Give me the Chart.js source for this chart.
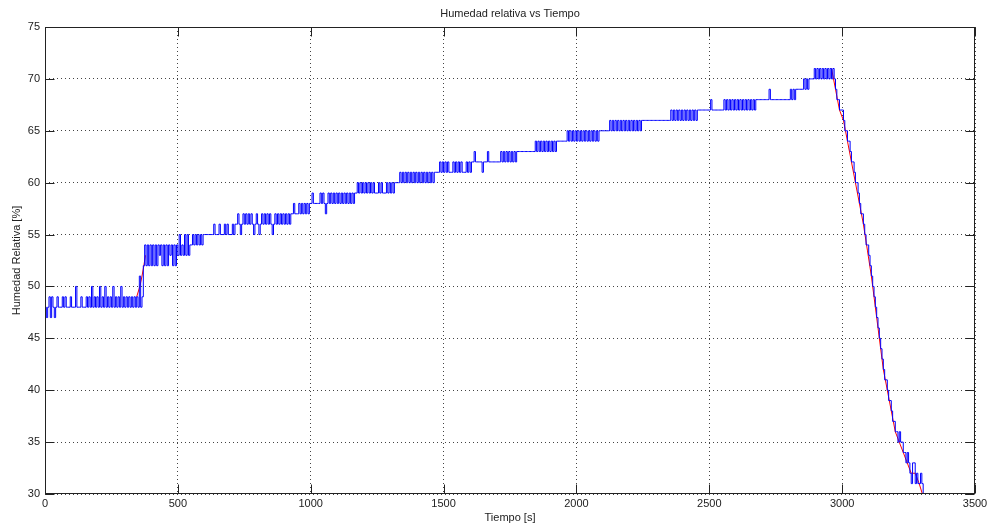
<!DOCTYPE html>
<html>
<head>
<meta charset="utf-8">
<script src="https://cdn.jsdelivr.net/npm/chart.js@4/dist/chart.umd.min.js"></script>
<style>
  html, body { margin: 0; padding: 0; background: #fff; }
  #wrap { width: 992px; height: 527px; }
</style>
</head>
<body>
<div id="wrap"><canvas id="myChart" width="992" height="527"></canvas></div>
<script>
// one row = 100 s, one value per 10 s bin:
// humidityBase is the level at the start of the bin, humidityExcursion the level
// the sensor flickers to in the second half of that bin
const timeStep = 10;
const humidityBase = [
  48, 48, 47, 48, 48, 48, 48, 48, 48, 48,
  48, 48, 48, 48, 48, 48, 48, 48, 48, 48,
  48, 48, 48, 48, 48, 48, 48, 48, 48, 48,
  48, 48, 48, 48, 48, 48, 48, 52, 52, 52,
  52, 52, 52, 53, 52, 52, 52, 53, 52, 52,
  53, 53, 53, 53, 53, 54, 54, 54, 54, 54,
  55, 55, 55, 55, 55, 55, 55, 55, 55, 55,
  55, 55, 56, 56, 56, 56, 56, 56, 56, 56,
  56, 56, 56, 56, 56, 56, 56, 56, 56, 56,
  56, 56, 56, 57, 57, 57, 57, 57, 57, 57,
  58, 58, 58, 58, 58, 58, 58, 58, 58, 58,
  58, 58, 58, 58, 58, 58, 58, 59, 59, 59,
  59, 59, 59, 59, 59, 59, 59, 59, 59, 59,
  59, 59, 60, 60, 60, 60, 60, 60, 60, 60,
  60, 60, 60, 60, 60, 60, 60, 61, 61, 61,
  61, 61, 61, 61, 61, 61, 61, 61, 61, 61,
  61, 62, 62, 62, 62, 62, 62, 62, 62, 62,
  62, 62, 62, 62, 62, 62, 62, 62, 63, 63,
  63, 63, 63, 63, 63, 63, 63, 63, 63, 63,
  63, 63, 63, 64, 64, 64, 64, 64, 64, 64,
  64, 64, 64, 64, 64, 64, 64, 64, 64, 65,
  65, 65, 65, 65, 65, 65, 65, 65, 65, 65,
  65, 65, 65, 65, 65, 66, 66, 66, 66, 66,
  66, 66, 66, 66, 66, 66, 66, 66, 66, 66,
  66, 66, 66, 66, 66, 66, 67, 67, 67, 67,
  67, 67, 67, 67, 67, 67, 67, 67, 67, 67,
  67, 67, 67, 67, 67, 67, 67, 67, 68, 68,
  68, 68, 68, 68, 68, 68, 68, 68, 68, 68,
  68, 68, 68, 69, 69, 69, 69, 69, 70, 70,
  70, 70, 70, 70, 70, 70, 70, 70, 68, 67,
  67, 65, 64, 63, 62, 60, 59, 57, 56, 54,
  53, 51, 49, 47, 45, 43, 41, 40, 39, 37,
  36, 35, 35, 34, 33, 33, 31, 33, 32, 31,
  31
];
const humidityExcursion = [
  47, 49, 49, 47, 49, 48, 49, 49, 48, 49,
  48, 50, 48, 49, 48, 49, 49, 50, 49, 49,
  50, 49, 50, 49, 49, 50, 49, 49, 50, 49,
  49, 49, 49, 49, 49, 51, 49, 54, 54, 54,
  54, 54, 54, 54, 54, 54, 54, 54, 54, 54,
  55, 54, 55, 55, 54, 55, 55, 55, 55, 55,
  55, 55, 55, 56, 55, 56, 55, 56, 56, 55,
  56, 56, 57, 55, 57, 57, 57, 57, 55, 57,
  55, 57, 57, 57, 57, 55, 57, 57, 57, 57,
  57, 57, 57, 58, 57, 58, 58, 58, 58, 58,
  59, 58, 58, 59, 59, 57, 59, 59, 59, 59,
  59, 59, 59, 59, 59, 59, 59, 60, 60, 60,
  60, 60, 60, 60, 59, 60, 60, 59, 60, 60,
  60, 60, 60, 61, 61, 61, 61, 61, 61, 61,
  61, 61, 61, 61, 61, 61, 61, 61, 62, 62,
  62, 62, 61, 62, 62, 62, 62, 61, 62, 62,
  62, 63, 62, 62, 61, 62, 63, 62, 62, 62,
  62, 63, 63, 63, 63, 63, 63, 63, 63, 63,
  63, 63, 63, 63, 64, 64, 64, 64, 64, 64,
  64, 64, 64, 64, 64, 64, 65, 65, 65, 65,
  65, 65, 65, 65, 65, 65, 65, 65, 65, 65,
  65, 65, 66, 66, 66, 66, 66, 66, 66, 66,
  66, 66, 66, 66, 66, 66, 66, 66, 66, 66,
  66, 66, 66, 66, 66, 67, 67, 67, 67, 67,
  67, 67, 67, 67, 67, 67, 67, 67, 67, 67,
  68, 67, 67, 67, 67, 68, 68, 68, 68, 68,
  68, 68, 68, 68, 68, 68, 68, 68, 68, 68,
  68, 68, 69, 68, 68, 68, 68, 68, 68, 68,
  69, 69, 69, 69, 69, 70, 70, 70, 70, 71,
  71, 71, 71, 71, 71, 71, 71, 69, 68, 67,
  66, 65, 64, 62, 61, 60, 58, 57, 55, 54,
  52, 50, 48, 46, 44, 42, 41, 39, 38, 37,
  36, 36, 35, 34, 34, 32, 33, 31, 31, 32,
  30
];

// red trace, only visible where it leaves the blue one (rise and fall)
const redTimes = [345, 357, 365, 372, 378, 380, 2960, 2975, 2990, 3005, 3020, 3035, 3050, 3065, 3080, 3095,
  3110, 3125, 3140, 3155, 3170, 3185, 3200, 3215, 3230, 3245, 3260, 3275, 3290, 3302];
const redValues = [49, 50, 51, 52, 53, null, 71, 69, 67, 66, 64, 62, 60, 58, 56, 53.5,
  51, 48, 45, 42, 40, 38, 36, 35, 34, 33, 32, 32, 31, 30];

const xTicks = [0, 500, 1000, 1500, 2000, 2500, 3000, 3500];
const yTicks = [30, 35, 40, 45, 50, 55, 60, 65, 70, 75];

const bluePoints = [];
humidityBase.forEach((v, i) => {
  bluePoints.push({ x: i * timeStep, y: v });
  bluePoints.push({ x: i * timeStep + timeStep / 2, y: humidityExcursion[i] });
});
const redPoints = redTimes.map((t, i) => ({ x: t, y: redValues[i] }));

Chart.defaults.font.family = '"Liberation Sans", Arial, sans-serif';
Chart.defaults.font.size = 11;
Chart.defaults.color = '#222';

const tickLen = 9;

// matlab style box with inward ticks on every side
const matlabBox = {
  id: 'matlabBox',
  afterDatasetsDraw(chart) {
    const { ctx, chartArea: a, scales } = chart;
    const left = Math.round(a.left) + 0.5;
    const right = Math.round(a.right) - 0.5;
    const top = Math.round(a.top) + 0.5;
    const bottom = Math.round(a.bottom) - 0.5;
    ctx.save();
    ctx.strokeStyle = '#222';
    ctx.lineWidth = 1;
    ctx.beginPath();
    xTicks.forEach(t => {
      const px = Math.round(scales.x.getPixelForValue(t)) + 0.5;
      ctx.moveTo(px, bottom); ctx.lineTo(px, bottom - tickLen);
      ctx.moveTo(px, top); ctx.lineTo(px, top + tickLen);
    });
    yTicks.forEach(t => {
      const py = Math.round(scales.y.getPixelForValue(t)) + 0.5;
      ctx.moveTo(left, py); ctx.lineTo(left + tickLen, py);
      ctx.moveTo(right, py); ctx.lineTo(right - tickLen, py);
    });
    ctx.stroke();
    ctx.strokeRect(left, top, right - left, bottom - top);
    ctx.restore();
  }
};

new Chart('myChart', {
  type: 'line',
  data: {
    datasets: [{
      data: bluePoints,
      borderColor: '#0000ff',
      borderWidth: 1,
      stepped: true,
      pointRadius: 0,
      order: 0
    }, {
      data: redPoints,
      borderColor: '#ff0000',
      borderWidth: 1,
      pointRadius: 0,
      tension: 0,
      spanGaps: false,
      order: 1
    }]
  },
  options: {
    responsive: false,
    animation: false,
    events: [],
    layout: { padding: { left: 0, right: 17, top: 0, bottom: 0 } },
    plugins: {
      legend: { display: false },
      tooltip: { enabled: false },
      title: {
        display: true,
        text: 'Humedad relativa vs Tiempo',
        fullSize: false,
        color: '#222',
        font: { size: 11, weight: 'normal', lineHeight: '13px' },
        padding: { top: 7, bottom: 7 }
      }
    },
    scales: {
      x: {
        type: 'linear',
        min: 0,
        max: 3500,
        afterBuildTicks: s => { s.ticks = xTicks.map(v => ({ value: v })); },
        afterFit: s => { s.height = 33; },
        ticks: { padding: 3, color: '#222', callback: v => String(v) },
        grid: { color: '#444', drawTicks: false },
        border: { display: false, dash: [1, 3] },
        title: {
          display: true,
          text: 'Tiempo [s]',
          color: '#222',
          font: { size: 11, lineHeight: '13px' },
          padding: { top: 0, bottom: 3 }
        }
      },
      y: {
        type: 'linear',
        min: 30,
        max: 75,
        afterBuildTicks: s => { s.ticks = yTicks.map(v => ({ value: v })); },
        afterFit: s => { s.width = 45; },
        ticks: { padding: 5, color: '#222', callback: v => String(v) },
        grid: { color: '#444', drawTicks: false },
        border: { display: false, dash: [1, 3] },
        title: {
          display: true,
          text: 'Humedad Relativa [%]',
          color: '#222',
          font: { size: 11, lineHeight: '13px' },
          padding: { top: 10, bottom: 0 }
        }
      }
    }
  },
  plugins: [matlabBox]
});
</script>
</body>
</html>
